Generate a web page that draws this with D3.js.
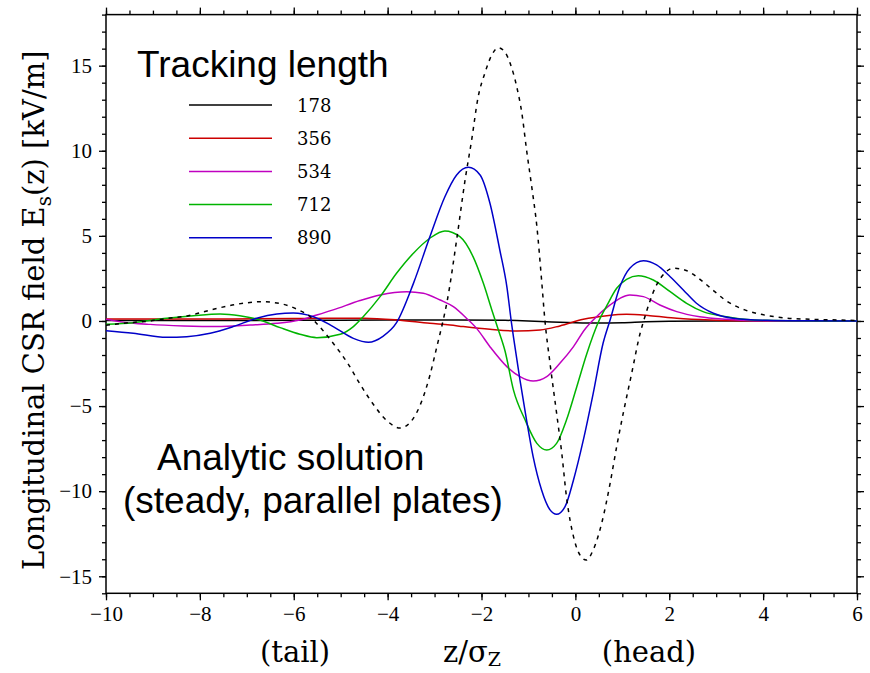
<!DOCTYPE html>
<html>
<head>
<meta charset="utf-8">
<script src="https://cdn.jsdelivr.net/npm/d3@7"></script>
<style>
  html, body { margin: 0; padding: 0; background: #fff; }
  svg { display: block; }
</style>
</head>
<body>
<svg id="chart" width="870" height="673"></svg>
<script>
// Longitudinal CSR field vs. z/sigma_z for several tracking lengths,
// compared with the steady-state analytic solution (dashed).

const xMajorTicks = [-10, -8, -6, -4, -2, 0, 2, 4, 6];
const yMajorTicks = [-15, -10, -5, 0, 5, 10, 15];

const trackingLengths = ["178", "356", "534", "712", "890"];
const seriesColors = ["#000000", "#cc0000", "#c000c0", "#00b400", "#0000c8"];

// [z/sigma_z, E_s (kV/m)]
const field178 = [[-10,0.03],[-8,0.03],[-6,0.04],[-4,0.05],[-2.5,0.06],[-1.5,0.04],[-1,0],[-0.5,-0.06],[0,-0.1],[0.5,-0.12],[1,-0.1],[1.5,-0.05],[2,-0.02],[3,0],[6,0]];

const field356 = [[-10,0.12],[-8,0.12],[-6,0.14],[-5.22,0.16],[-4.5,0.16],[-3.81,0.06],[-3.1,-0.14],[-2.67,-0.24],[-2.39,-0.33],[-1.82,-0.49],[-1.25,-0.59],[-0.75,-0.53],[-0.33,-0.29],[0.17,0.1],[0.67,0.31],[1.09,0.39],[1.59,0.31],[2.16,0.16],[2.87,0.06],[3.5,0.02],[4.5,0],[6,0]];

const field534 = [[-10,0.1],[-9.7,-0.04],[-9.06,-0.2],[-8.35,-0.29],[-7.64,-0.33],[-6.93,-0.24],[-6.36,-0.14],[-5.87,0.06],[-5.51,0.35],[-5.16,0.65],[-4.59,1.2],[-4.16,1.53],[-3.59,1.72],[-3.24,1.63],[-2.88,1.23],[-2.6,0.84],[-2.32,0.16],[-2.1,-0.45],[-1.82,-1.51],[-1.46,-2.68],[-1.18,-3.27],[-0.9,-3.53],[-0.61,-3.27],[-0.33,-2.49],[-0.04,-1.51],[0.2,-0.5],[0.38,0.06],[0.74,0.94],[0.95,1.33],[1.16,1.53],[1.45,1.43],[1.8,0.94],[2.16,0.55],[2.65,0.25],[3.22,0.1],[3.79,0.02],[4.5,0],[6,0]];

const field712 = [[-10,-0.2],[-9.42,-0.1],[-8.71,0.16],[-8.14,0.31],[-7.57,0.41],[-7.15,0.31],[-6.72,0.06],[-6.29,-0.39],[-5.87,-0.78],[-5.51,-0.98],[-5.01,-0.78],[-4.73,-0.33],[-4.52,0.25],[-4.16,1.43],[-3.81,2.8],[-3.45,3.98],[-3.1,4.86],[-2.78,5.29],[-2.46,4.95],[-2.18,3.78],[-1.96,2.21],[-1.78,0.65],[-1.64,-0.53],[-1.5,-1.75],[-1.32,-4.05],[-1.07,-5.82],[-0.82,-7.19],[-0.61,-7.58],[-0.4,-7.19],[-0.19,-5.82],[0.03,-3.86],[0.24,-1.95],[0.5,0],[0.67,0.9],[0.88,1.92],[1.09,2.45],[1.34,2.66],[1.66,2.41],[2.02,1.72],[2.37,1.04],[2.72,0.55],[3.22,0.25],[3.79,0.06],[4.5,0.01],[6,0]];

const field890 = [[-10,-0.57],[-9.42,-0.72],[-8.71,-0.96],[-8.28,-0.92],[-7.78,-0.72],[-7.29,-0.33],[-6.79,0.16],[-6.36,0.41],[-6.01,0.47],[-5.58,0.25],[-5.16,-0.33],[-4.73,-1.02],[-4.41,-1.25],[-4.1,-0.9],[-3.81,-0.1],[-3.45,2.21],[-3.1,4.95],[-2.78,7.3],[-2.53,8.58],[-2.28,9.03],[-2.03,8.58],[-1.82,6.92],[-1.61,4.17],[-1.46,2.02],[-1.36,-0.14],[-1.32,-0.92],[-1.18,-3.47],[-1.04,-5.82],[-0.9,-7.97],[-0.72,-9.93],[-0.54,-11.1],[-0.4,-11.36],[-0.22,-10.91],[-0.04,-9.34],[0.17,-6.99],[0.38,-4.25],[0.59,-1.31],[0.74,0.06],[0.95,2.02],[1.16,3.1],[1.45,3.54],[1.73,3.29],[2.02,2.6],[2.3,1.82],[2.58,1.04],[2.94,0.45],[3.36,0.16],[4.08,0.04],[5,0.01],[6,0]];

const fieldAnalytic = [[-10,-0.25],[-9.5,-0.1],[-9.06,0],[-8.7,0.15],[-8.25,0.31],[-7.71,0.69],[-7.22,0.98],[-6.68,1.13],[-6.22,0.98],[-5.9,0.65],[-5.65,0.25],[-5.48,-0.24],[-5.16,-1.31],[-4.84,-2.53],[-4.59,-3.7],[-4.33,-4.8],[-4.0,-5.9],[-3.74,-6.29],[-3.5,-5.9],[-3.3,-4.9],[-3.1,-3.2],[-2.95,-1.5],[-2.82,0.0],[-2.74,1.04],[-2.53,4.76],[-2.35,8.28],[-2.21,10.63],[-2.07,13.18],[-1.93,14.55],[-1.78,15.63],[-1.64,16.05],[-1.5,15.8],[-1.39,15.14],[-1.25,13.77],[-1.14,12.2],[-1.04,10.05],[-0.93,7.89],[-0.82,5.54],[-0.72,2.41],[-0.65,0.06],[-0.54,-2.49],[-0.4,-5.42],[-0.29,-7.77],[-0.19,-10.32],[-0.04,-12.67],[0.06,-13.55],[0.23,-14.05],[0.38,-13.45],[0.56,-11.89],[0.74,-9.54],[0.88,-7.38],[1.02,-5.42],[1.2,-3.07],[1.38,-0.72],[1.45,-0.04],[1.73,2.12],[1.9,2.8],[2.09,3.1],[2.33,3.0],[2.76,2.21],[2.97,1.72],[3.19,1.23],[3.61,0.65],[3.86,0.45],[4.43,0.19],[5.0,0.1],[5.57,0.06],[6,0.03]];

const simulatedSeries = [field178, field356, field534, field712, field890];

// ---- layout ----
const plot = { left: 106, right: 857, top: 14.6, bottom: 593.3 };

const svg = d3.select("#chart");

const x = d3.scaleLinear().domain([-10, 6]).range([plot.left, plot.right]);
const y = d3.scaleLinear().domain([-16, 18]).range([plot.bottom, plot.top]);

svg.append("defs").append("clipPath").attr("id", "plotClip")
  .append("rect")
  .attr("x", plot.left).attr("y", plot.top)
  .attr("width", plot.right - plot.left).attr("height", plot.bottom - plot.top);

// ---- axes (ticks point outward on all four sides) ----
const xMinor = d3.range(-10, 6.001, 0.5);
const yMinor = d3.range(-16, 18.001, 1);

function styleAxis(g) {
  g.select(".domain").remove();
  g.selectAll("line").attr("stroke", "#000").attr("stroke-width", 1.3);
}

const tickFmt = d => (d < 0 ? "\u2212" + Math.abs(d) : String(d));

// minor ticks
svg.append("g").attr("transform", `translate(0,${plot.bottom})`)
  .call(d3.axisBottom(x).tickValues(xMinor).tickSize(4).tickFormat(""))
  .call(styleAxis);
svg.append("g").attr("transform", `translate(0,${plot.top})`)
  .call(d3.axisTop(x).tickValues(xMinor).tickSize(4).tickFormat(""))
  .call(styleAxis);
svg.append("g").attr("transform", `translate(${plot.left},0)`)
  .call(d3.axisLeft(y).tickValues(yMinor).tickSize(4).tickFormat(""))
  .call(styleAxis);
svg.append("g").attr("transform", `translate(${plot.right},0)`)
  .call(d3.axisRight(y).tickValues(yMinor).tickSize(4).tickFormat(""))
  .call(styleAxis);

// major ticks
const xAxisBottom = svg.append("g").attr("transform", `translate(0,${plot.bottom})`)
  .call(d3.axisBottom(x).tickValues(xMajorTicks).tickSize(7).tickPadding(6).tickFormat(tickFmt))
  .call(styleAxis);
svg.append("g").attr("transform", `translate(0,${plot.top})`)
  .call(d3.axisTop(x).tickValues(xMajorTicks).tickSize(7).tickFormat(""))
  .call(styleAxis);
const yAxisLeft = svg.append("g").attr("transform", `translate(${plot.left},0)`)
  .call(d3.axisLeft(y).tickValues(yMajorTicks).tickSize(7).tickPadding(7).tickFormat(tickFmt))
  .call(styleAxis);
svg.append("g").attr("transform", `translate(${plot.right},0)`)
  .call(d3.axisRight(y).tickValues(yMajorTicks).tickSize(7).tickFormat(""))
  .call(styleAxis);

[xAxisBottom, yAxisLeft].forEach(g => g.selectAll("text")
  .attr("font-family", "'Liberation Serif', serif")
  .attr("font-size", 21)
  .attr("fill", "#000"));

// frame
svg.append("rect")
  .attr("x", plot.left).attr("y", plot.top)
  .attr("width", plot.right - plot.left).attr("height", plot.bottom - plot.top)
  .attr("fill", "none").attr("stroke", "#000").attr("stroke-width", 1.5);

// ---- curves ----
const line = d3.line()
  .x(d => x(d[0]))
  .y(d => y(d[1]))
  .curve(d3.curveMonotoneX);

const curves = svg.append("g").attr("clip-path", "url(#plotClip)");

simulatedSeries.forEach((s, i) => {
  curves.append("path")
    .datum(s)
    .attr("d", line)
    .attr("fill", "none")
    .attr("stroke", seriesColors[i])
    .attr("stroke-width", 1.5);
});

curves.append("path")
  .datum(fieldAnalytic)
  .attr("d", line)
  .attr("fill", "none")
  .attr("stroke", "#000")
  .attr("stroke-width", 1.5)
  .attr("stroke-dasharray", "4,5");

// ---- legend ----
svg.append("text")
  .attr("x", 137).attr("y", 77)
  .attr("font-family", "'Liberation Sans', Arial, sans-serif")
  .attr("font-size", 37)
  .attr("fill", "#000")
  .text("Tracking length");

const legend = svg.append("g");
trackingLengths.forEach((label, i) => {
  const ly = 105 + i * 33.2;
  legend.append("line")
    .attr("x1", 189).attr("x2", 272)
    .attr("y1", ly).attr("y2", ly)
    .attr("stroke", seriesColors[i]).attr("stroke-width", 1.5);
  legend.append("text")
    .attr("x", 297).attr("y", ly + 6.5)
    .attr("font-family", "'DejaVu Serif', serif")
    .attr("font-size", 18)
    .attr("fill", "#000")
    .text(label);
});

// ---- annotation ----
const note = svg.append("g")
  .attr("font-family", "'Liberation Sans', Arial, sans-serif")
  .attr("font-size", 37)
  .attr("fill", "#000");
note.append("text").attr("x", 157).attr("y", 470).text("Analytic solution");
note.append("text").attr("x", 123).attr("y", 513).text("(steady, parallel plates)");

// ---- axis titles ----
const serif = "'DejaVu Serif', serif";

const yTitle = svg.append("text")
  .attr("transform", "translate(44,570) rotate(-90)")
  .attr("font-family", serif)
  .attr("font-size", 29)
  .attr("fill", "#000");
yTitle.append("tspan").text("Longitudinal CSR field E");
yTitle.append("tspan").attr("dy", 7).attr("font-size", 20).text("s");
yTitle.append("tspan").attr("dy", -7).text("(z) [kV/m]");

const xTitles = svg.append("g")
  .attr("font-family", serif)
  .attr("font-size", 29)
  .attr("fill", "#000");
xTitles.append("text").attr("x", 295).attr("y", 662).attr("text-anchor", "middle").text("(tail)");
const zLabel = xTitles.append("text").attr("x", 443).attr("y", 662);
zLabel.append("tspan").text("z/\u03C3");
zLabel.append("tspan").attr("dy", 4).attr("font-size", 19).text("Z");
xTitles.append("text").attr("x", 649).attr("y", 662).attr("text-anchor", "middle").text("(head)");
</script>
</body>
</html>
